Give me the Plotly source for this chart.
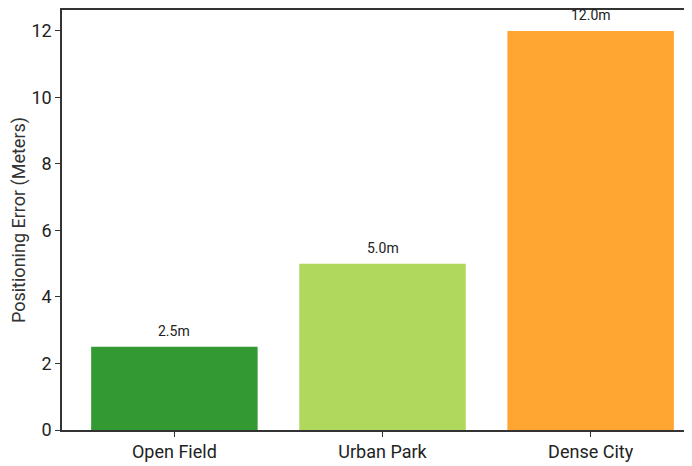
import plotly.graph_objects as go

categories = ["Open Field", "Urban Park", "Dense City"]
errors = [2.5, 5.0, 12.0]
labels = ["2.5m", "5.0m", "12.0m"]
colors = ["#339933", "#b0d85c", "#ffa532"]
y_ticks = [0, 2, 4, 6, 8, 10, 12]

FONT = "Roboto, 'Open Sans', sans-serif"

fig = go.Figure()
fig.add_trace(go.Bar(
    x=list(range(len(categories))),
    y=errors,
    width=0.8,
    marker=dict(color=colors, line=dict(width=0)),
    hoverinfo="skip",
))

for i, (v, t) in enumerate(zip(errors, labels)):
    fig.add_annotation(
        x=i, y=v, text=t, showarrow=False,
        xanchor="center", yanchor="bottom", yshift=6,
        font=dict(family=FONT, size=14, color="#222222"),
    )

# page body has an 8px margin; compensate so the plot lands where the reference has it
fig.update_layout(
    width=684, height=458,
    margin=dict(l=54, r=0, t=2, b=36),
    paper_bgcolor="white",
    plot_bgcolor="white",
    showlegend=False,
    font=dict(family=FONT, color="#222222"),
)

fig.update_xaxes(
    range=[-0.54, 2.487],
    tickmode="array",
    tickvals=list(range(len(categories))),
    ticktext=categories,
    ticks="outside", ticklen=5, tickwidth=1.2, tickcolor="#333333",
    tickfont=dict(family=FONT, size=18, color="#222222"),
    showline=True, linecolor="#333333", linewidth=1.5, mirror=True,
    showgrid=False, zeroline=False,
)
fig.update_yaxes(
    range=[0, 12.63],
    tickmode="array",
    tickvals=y_ticks,
    ticks="outside", ticklen=5, tickwidth=1.2, tickcolor="#333333",
    tickfont=dict(family=FONT, size=18, color="#222222"),
    showline=True, linecolor="#333333", linewidth=1.5, mirror=False,
    showgrid=False, zeroline=False,
    title=dict(text="Positioning Error (Meters)", font=dict(family=FONT, size=18, color="#333333"), standoff=12),
)

fig.write_html("out.html")
